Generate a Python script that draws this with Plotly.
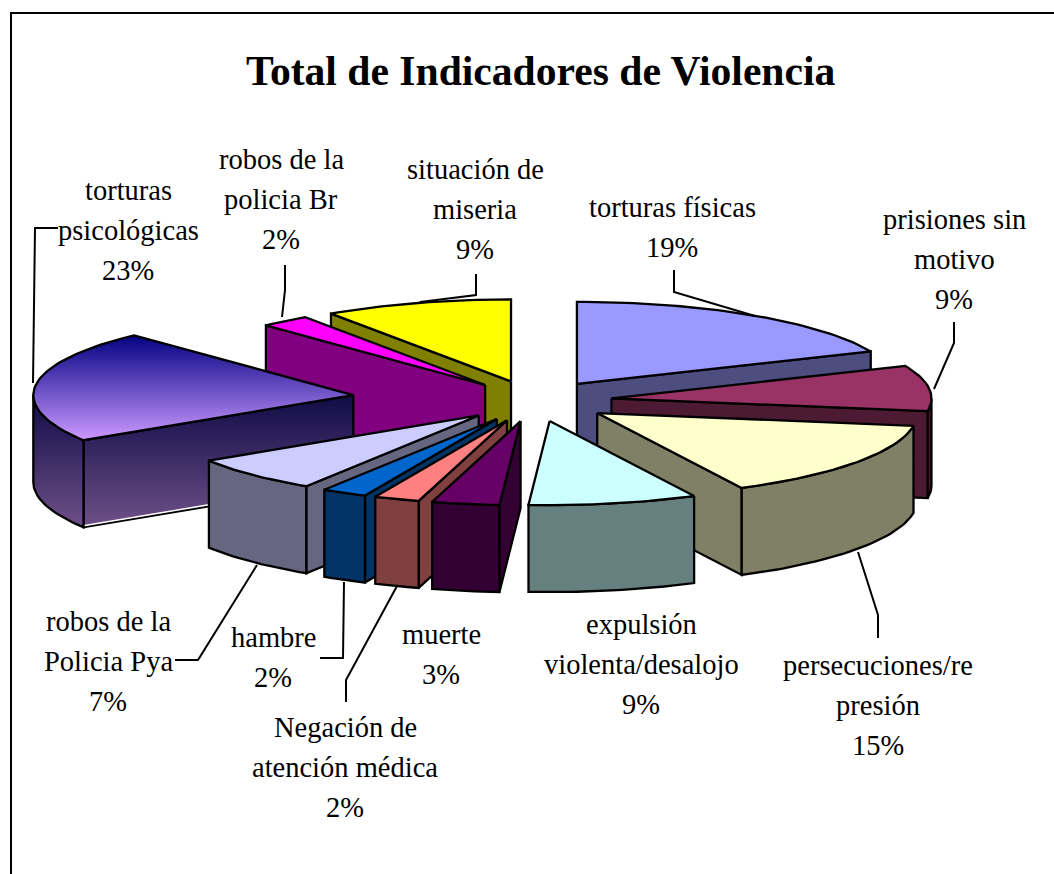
import math
import plotly.graph_objects as go

TITLE = "Total de Indicadores de Violencia"
categories = ["torturas físicas", "prisiones sin motivo", "persecuciones/represión",
              "expulsión violenta/desalojo", "muerte", "Negación de atención médica",
              "hambre", "robos de la Policia Pya", "torturas psicológicas",
              "robos de la policia Br", "situación de miseria"]
values = [18.5, 8.9, 15.1, 8.5, 3.4, 2.3, 2.3, 6.9, 22.0, 2.5, 9.5]
percent_labels = ["19%", "9%", "15%", "9%", "3%", "2%", "2%", "7%", "23%", "2%", "9%"]
label_lines = [["torturas físicas"], ["prisiones sin", "motivo"], ["persecuciones/re", "presión"],
               ["expulsión", "violenta/desalojo"], ["muerte"], ["Negación de", "atención médica"],
               ["hambre"], ["robos de la", "Policia Pya"], ["torturas", "psicológicas"],
               ["robos de la", "policia Br"], ["situación de", "miseria"]]
top_colors = ["#9999FF", "#993366", "#FFFFCC", "#CCFFFF", "#660066", "#FF8080",
              "#0066CC", "#CCCCFF", None, "#FF00FF", "#FFFF00"]
wall_colors = ["#4D4D80", "#4D1A33", "#808066", "#668080", "#330033", "#804040",
               "#003366", "#666680", None, "#800080", "#808000"]
pull = [0.244, 0.244, 0.244, 0.244, 0.244, 0.244, 0.244, 0.244, 0.569, 0.244, 0.244]

# projection of the tilted pie
CX, CY, RX, RY_BACK, RY_FRONT, DEPTH = 534, 401, 320, 82, 84, 87
label_x = [672, 954, 878, 641, 441, 345, 273, 108, 128, 281, 475]
label_y = [207, 219, 665, 624, 634, 727, 637, 621, 190, 159, 169]
LINE_STEP = 40
leaders = {0: ([674, 674, 755], [270, 292, 316]),
           1: ([954, 954, 934], [322, 343, 389]),
           2: ([878, 878, 858], [638, 615, 552]),
           5: ([346, 346, 397], [702, 680, 586]),
           6: ([320, 343, 344], [658, 658, 582]),
           7: ([175, 198, 257], [660, 660, 565]),
           8: ([58, 35, 33], [228, 228, 383]),
           9: ([285, 285, 282], [265, 290, 317]),
           10: ([476, 476, 420], [274, 295, 302])}

total = sum(values)
angles = [0.0]
for v in values:
    angles.append(angles[-1] + v / total * 2 * math.pi)


def rim(ax, ay, a):
    c = math.cos(a)
    return ax + RX * math.sin(a), ay - (RY_BACK if c > 0 else RY_FRONT) * c


def poly(xs, ys, color=None, gradient=None, width=2.3):
    kw = dict(fillgradient=gradient) if gradient else dict(fillcolor=color)
    return go.Scatter(x=xs + xs[:1], y=ys + ys[:1], mode="lines", fill="toself",
                      line=dict(color="black", width=width), hoverinfo="skip",
                      showlegend=False, **kw)


def wall(x0, y0, x1, y1, color, gradient):
    return poly([x0, x1, x1, x0], [y0, y1, y1 + DEPTH, y0 + DEPTH], color, gradient)


TOP_GRAD = dict(type="vertical", colorscale=[[0, "#000080"], [1, "#CC99FF"]],
                start=334, stop=440)
WALL_GRAD = dict(type="vertical", colorscale=[[0, "#0E0A45"], [1, "#6F5088"]],
                 start=393, stop=527)

fig = go.Figure()
mids = [(angles[i] + angles[i + 1]) / 2 for i in range(len(values))]
order = sorted(range(len(values)), key=lambda i: -math.cos(mids[i]))
for i in order:
    a0, a1 = angles[i], angles[i + 1]
    ax = CX + pull[i] * RX * math.sin(mids[i])
    ay = CY - pull[i] * RY_FRONT * math.cos(mids[i])
    top, side = top_colors[i], wall_colors[i]
    tgrad = TOP_GRAD if top is None else None
    wgrad = WALL_GRAD if side is None else None
    steps = max(3, int((a1 - a0) * 40))
    arc = [a0 + (a1 - a0) * k / steps for k in range(steps + 1)]
    pts = [rim(ax, ay, a) for a in arc]
    if math.sin(a0) < 0:
        fig.add_trace(wall(ax, ay, *pts[0], side, wgrad))
        if top is None:
            fig.add_trace(go.Scatter(x=[ax, pts[0][0]],
                                     y=[ay + DEPTH - 1.5, pts[0][1] + DEPTH - 1.5],
                                     mode="lines", line=dict(color="white", width=1.5),
                                     hoverinfo="skip", showlegend=False))
    if math.sin(a1) > 0:
        fig.add_trace(wall(ax, ay, *pts[-1], side, wgrad))
    vis = [a for a in arc if math.pi / 2 <= a <= 3 * math.pi / 2]
    lo, hi = max(a0, math.pi / 2), min(a1, 3 * math.pi / 2)
    if hi > lo:
        vis = sorted(set([lo] + vis + [hi]))
        rp = [rim(ax, ay, a) for a in vis]
        fig.add_trace(poly([p[0] for p in rp] + [p[0] for p in rp[::-1]],
                           [p[1] for p in rp] + [p[1] + DEPTH for p in rp[::-1]],
                           side, wgrad))
    fig.add_trace(poly([ax] + [p[0] for p in pts], [ay] + [p[1] for p in pts],
                       top, tgrad))

for xs, ys in leaders.values():
    fig.add_trace(go.Scatter(x=xs, y=ys, mode="lines", line=dict(color="black", width=2),
                             hoverinfo="skip", showlegend=False))

annotations = [dict(x=541, y=71, text="<b>%s</b>" % TITLE, showarrow=False, xref="x", yref="y",
                    font=dict(family="Liberation Serif", size=41.6, color="black"))]
for i in range(len(values)):
    for k, line in enumerate(label_lines[i] + [percent_labels[i]]):
        annotations.append(dict(x=label_x[i], y=label_y[i] + k * LINE_STEP, text=line,
                                showarrow=False, xref="x", yref="y",
                                font=dict(family="Liberation Serif", size=28.5, color="black")))

fig.update_layout(
    width=1054, height=874, margin=dict(l=0, r=0, t=0, b=0),
    paper_bgcolor="white", plot_bgcolor="white", showlegend=False,
    xaxis=dict(range=[0, 1054], visible=False, fixedrange=True),
    yaxis=dict(range=[874, 0], visible=False, fixedrange=True),
    annotations=annotations,
    shapes=[dict(type="rect", x0=11, y0=13, x1=1070, y1=900, xref="x", yref="y",
                 line=dict(color="black", width=2), layer="below")],
)
fig.write_html("out.html", config=dict(displayModeBar=False),
               post_script="document.body.style.margin='0';document.body.style.overflow='hidden';")
